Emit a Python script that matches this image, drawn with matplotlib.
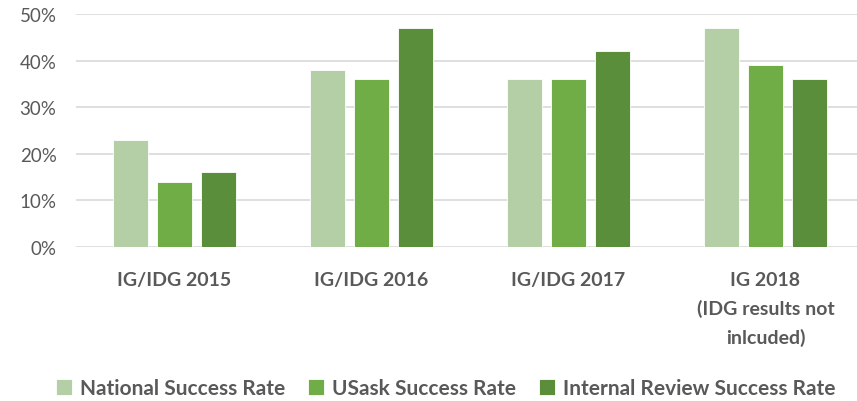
import numpy as np
import matplotlib
matplotlib.use("Agg")
import matplotlib.pyplot as plt
from matplotlib.ticker import PercentFormatter

# Data
categories = ["IG/IDG 2015", "IG/IDG 2016", "IG/IDG 2017",
              "IG 2018\n(IDG results not\ninlcuded)"]
series_names = ["National Success Rate", "USask Success Rate",
                "Internal Review Success Rate"]
national = [23, 38, 36, 47]
usask = [14, 36, 36, 39]
internal = [16, 47, 42, 36]

colors = ["#B4CFA6", "#70AD47", "#5B8E3A"]
text_color = "#595959"

plt.rcParams["font.family"] = ["Lato", "DejaVu Sans"]

fig = plt.figure(figsize=(8.57, 4.02), dpi=100)
ax = fig.add_axes([76 / 857, 1 - 248 / 402, (864 - 76) / 857, (248 - 15) / 402])

x = np.arange(len(categories))
width = 0.175
step = 0.223
for i, (vals, name) in enumerate(zip([national, usask, internal], series_names)):
    ax.bar(x + (i - 1) * step, vals, width, color=colors[i], label=name,
           edgecolor="white", linewidth=0.6, zorder=3)

ax.set_xlim(-0.5, len(categories) - 0.5)
ax.set_ylim(0, 50)
ax.set_yticks(range(0, 51, 10))
ax.yaxis.set_major_formatter(PercentFormatter(decimals=0))
ax.grid(axis="y", color="#D9D9D9", linewidth=1.2, zorder=0)
for s in ax.spines.values():
    s.set_visible(False)
ax.tick_params(axis="both", length=0, colors=text_color)
ax.tick_params(axis="y", labelsize=13.5, pad=14)
ax.set_xticks(x)
ax.set_xticklabels(categories, fontsize=14, fontweight="bold",
                   color=text_color, linespacing=1.75, va="top")
ax.tick_params(axis="x", pad=17)

leg = fig.legend(loc="lower center", bbox_to_anchor=(0.52, -0.04), ncol=3,
                 frameon=False, handlelength=0.75, handleheight=0.75,
                 handletextpad=0.4, columnspacing=1.1,
                 prop={"size": 15, "weight": "bold"})
for t in leg.get_texts():
    t.set_color(text_color)

fig.savefig("out.png", dpi=100)
